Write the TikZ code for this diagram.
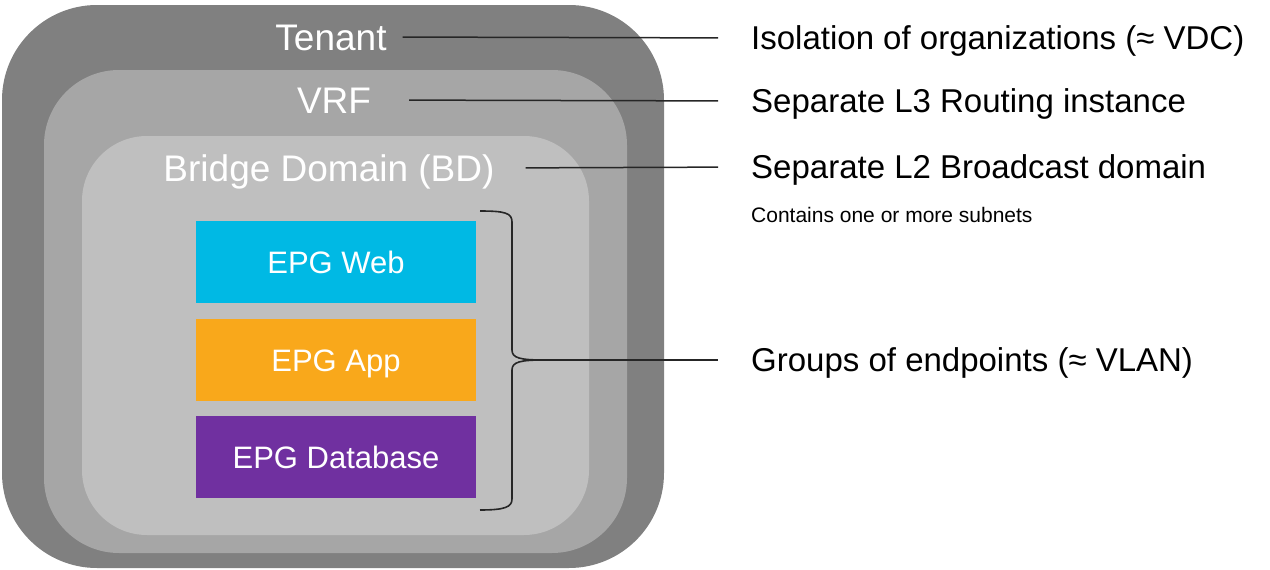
\documentclass[tikz,border=0pt]{standalone}
\usepackage{fontspec}
\setmainfont{Liberation Sans}
\usepackage{tikz}
\definecolor{tenantgray}{HTML}{808080}\definecolor{vrfgray}{HTML}{A6A6A6}\definecolor{bdgray}{HTML}{BFBFBF}
\definecolor{epgweb}{HTML}{00B9E4}\definecolor{epgapp}{HTML}{F9A81B}\definecolor{epgdb}{HTML}{7030A0}
\definecolor{linegray}{HTML}{262626}
\tikzset{
  lbl/.style={text=white,inner sep=0pt,text height=26.6pt,text depth=0pt,font=\fontsize{37}{40}\selectfont},
  desc/.style={anchor=west,inner sep=0pt,text height=23.8pt,text depth=0pt,text=black,font=\fontsize{33}{36}\selectfont},
  smalldesc/.style={desc,text height=15.1pt,font=\fontsize{21}{24}\selectfont},
  epg/.style={minimum width=280pt,minimum height=82pt,inner sep=0pt,text=white,text height=22.3pt,text depth=0pt,font=\fontsize{31}{34}\selectfont},
  link/.style={draw=linegray,line width=1.5pt},
}
\begin{document}
\begin{tikzpicture}[x=1pt,y=-1pt] % 坐标按像素
\useasboundingbox (0,0) rectangle (1270,570);
\fill[tenantgray,rounded corners=95pt] (2,5) rectangle (664,568);
\fill[vrfgray,rounded corners=75pt] (44,70) rectangle (627,553);
\fill[bdgray,rounded corners=65pt] (82,136) rectangle (589,535);
\node[lbl](tenant) at (331,37) {Tenant};\node[lbl](vrf) at (334,100) {VRF};
\node[lbl](bd) at (329,168) {Bridge Domain (BD)};
\node[epg,fill=epgweb](web) at (336,262) {EPG Web};
\node[epg,fill=epgapp](app) at (336,360) {EPG App};
\node[epg,fill=epgdb](db) at (336,457) {EPG Database};
\node[desc](isol) at (751,38) {Isolation of organizations (≈ VDC)};
\node[desc](sepl3) at (751,101) {Separate L3 Routing instance};
\node[desc](sepl2) at (751,167) {Separate L2 Broadcast domain};
\node[smalldesc](subn) at (751,215) {Contains one or more subnets};
\node[desc](groups) at (751,360) {Groups of endpoints (≈ VLAN)};
% 括号
\coordinate(bt) at (480,211);\coordinate(bb) at (480,510);\coordinate(tip) at (544,360);
\draw[linegray,line width=1.6pt] (bt) .. controls (505,211) and (512,213) .. (512,222) -- (512,350)
  .. controls (512,358) and (520,360) .. (tip) .. controls (520,360) and (512,362) .. (512,370) -- (512,499)
  .. controls (512,507) and (505,510) .. (bb);
\draw[link,shorten <=16pt,shorten >=33pt] (tenant.east) -- (isol.west);
\draw[link,shorten <=38pt,shorten >=33pt] (vrf.east) -- (sepl3.west);
\draw[link,shorten <=31pt,shorten >=33pt] (bd.east) -- (sepl2.west);
\draw[link,shorten >=33pt] (tip) -- (groups.west);
\end{tikzpicture}
\end{document}
